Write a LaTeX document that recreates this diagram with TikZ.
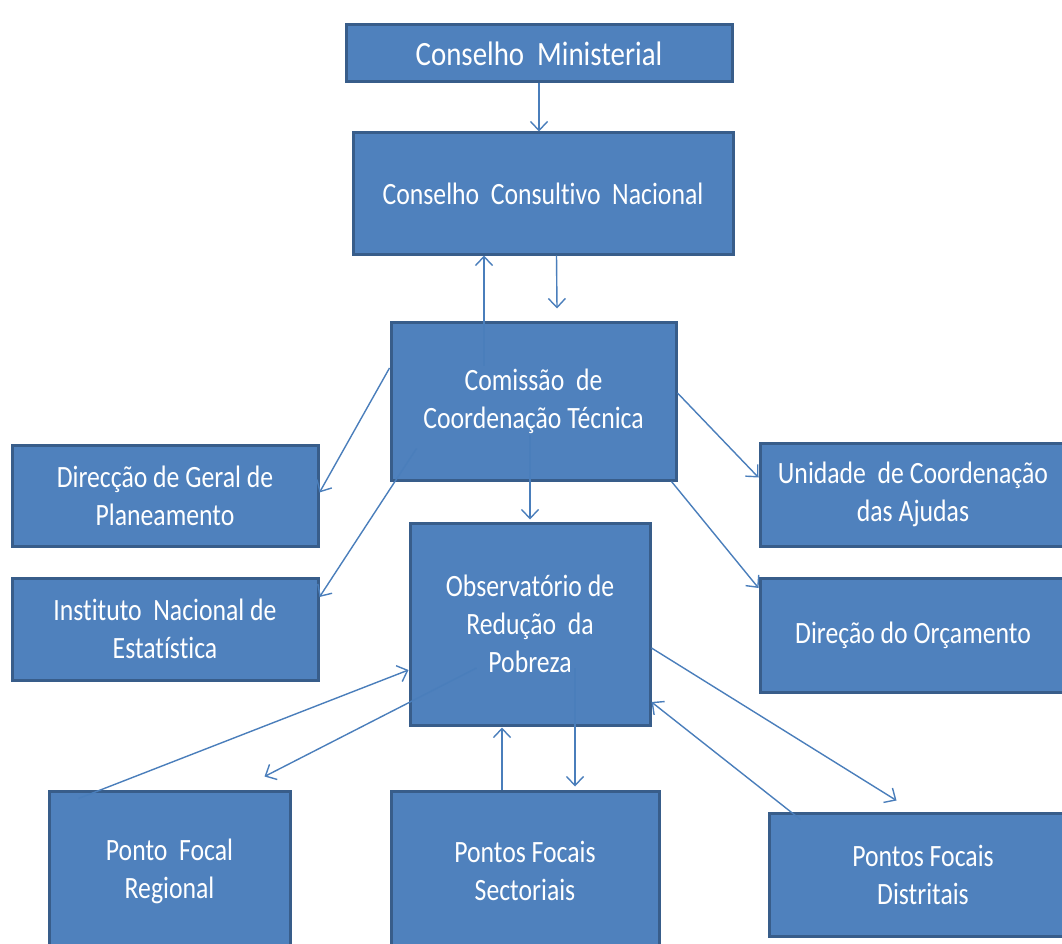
\documentclass[tikz,border=0pt]{standalone}
\usepackage{fontspec}
\usepackage{tikz}
\usetikzlibrary{arrows.meta}
\newfontfamily\boxfont{Carlito}[FakeStretch=0.83, Ligatures=NoCommon]
\newfontfamily\topfont{Carlito}[FakeStretch=0.85, Ligatures=NoCommon]
\definecolor{boxfill}{HTML}{4F81BD}
\definecolor{boxline}{HTML}{385D8A}
\definecolor{linkcol}{HTML}{4A7EBB}

\begin{document}
\begin{tikzpicture}[x=1pt, y=-1pt,
  box/.style={draw=boxline, fill=boxfill, line width=3pt, text=white, align=center,
    inner sep=0pt, font=\boxfont\fontsize{31}{38}\selectfont},
  link/.style={draw=linkcol, line width=1.4pt, -{Straight Barb[length=9pt, width=17pt, line width=1.4pt]}}]
\useasboundingbox (0,0) rectangle (1062,944);
\clip (0,0) rectangle (1062,944);

\node[box, minimum width=386, minimum height=57, font=\topfont\fontsize{34}{38}\selectfont] (min) at (539,53.5) {Conselho\ \ Ministerial};
\node[box, minimum width=380, minimum height=121] (ccn) at (543,193.5) {Conselho\ \ Consultivo\ \ Nacional};
\node[box, minimum width=285, minimum height=158] (cct) at (533.5,401) {Comissão\ \ de\\Coordenação Técnica};
\node[box, minimum width=306, minimum height=101] (dgp) at (165,495.5) {Direcção de Geral de\\Planeamento};
\node[box, minimum width=306, minimum height=102] (ine) at (165,629) {Instituto\ \ Nacional de\\Estatística};
\node[box, minimum width=240, minimum height=202] (orp) at (530,624) {Observatório de\\Redução\ \ da\\Pobreza};
\node[box, minimum width=306, minimum height=103] (uca) at (913,494.5) {Unidade\ \ de Coordenação\\das Ajudas};
\node[box, minimum width=306, minimum height=114] (dorc) at (913,635) {Direção do Orçamento};
\node[box, minimum width=241, minimum height=160] (pfr) at (169.5,871) {Ponto\ \ Focal\\Regional};
\node[box, minimum width=268, minimum height=160] (pfs) at (525,871) {Pontos Focais\\Sectoriais};
\node[box, minimum width=308, minimum height=123] (pfd) at (923,874.5) {Pontos Focais\\Distritais};

% ligacoes de cima
\draw[link] (min.south) -- (min.south |- ccn.north);
\coordinate (up1) at ([xshift=-49.5pt, yshift=-45pt]cct.north);
\draw[link] (up1) -- (up1 |- ccn.south);
\draw[link] ([xshift=13.5pt]ccn.south) -- ([xshift=23.5pt, yshift=12pt]cct.north);

% ligacoes da comissao
\draw[link] ([yshift=33pt]cct.west) -- ([yshift=3pt]dgp.east);
\draw[link] ([xshift=27pt, yshift=33pt]cct.south west) -- ([yshift=32pt]ine.east);
\coordinate (down1) at ([xshift=-3.5pt, yshift=-34pt]cct.center);
\draw[link] (down1) -- ([yshift=2pt]down1 |- orp.north);
\draw[link] ([yshift=8pt]cct.east) -- ([yshift=17pt]uca.west);
\draw[link] ([xshift=-6pt]cct.south east) -- ([yshift=47pt]dorc.west);

% ligacoes do observatorio
\draw[link] ([xshift=31pt, yshift=-9pt]pfr.north west) -- ([yshift=-46pt]orp.west);
\draw[link] ([xshift=68pt, yshift=-44pt]orp.west) -- ([xshift=-27pt, yshift=13pt]pfr.north east);
\draw[link] ([xshift=-23pt]pfs.north) -- ([xshift=-23pt, yshift=-1pt]pfs.north |- orp.south);
\coordinate (down2) at ([xshift=45pt, yshift=-44pt]orp.center);
\draw[link] (down2) -- ([yshift=3pt]down2 |- pfs.north);
\draw[link] ([yshift=-24pt]orp.east) -- ([xshift=129pt, yshift=11pt]pfd.north west);
\draw[link] ([xshift=33pt, yshift=-8pt]pfd.north west) -- ([yshift=-78pt]orp.east);
\end{tikzpicture}
\end{document}
